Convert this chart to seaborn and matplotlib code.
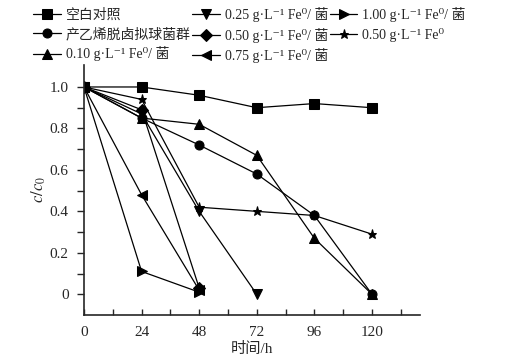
import numpy as np
import pandas as pd
import matplotlib
matplotlib.use("Agg")
import matplotlib.pyplot as plt
from matplotlib.ticker import FixedLocator
import seaborn as sns

sns.set_style("ticks")
plt.rcParams["font.family"] = ["Liberation Serif", "DejaVu Serif", "Noto Sans CJK SC"]
plt.rcParams["mathtext.fontset"] = "stix"

# data
series_names = [
    "空白对照",
    "产乙烯脱卤拟球菌群",
    "0.10 g·L⁻¹ Fe⁰/ 菌",
    "0.25 g·L⁻¹ Fe⁰/ 菌",
    "0.50 g·L⁻¹ Fe⁰/ 菌",
    "0.75 g·L⁻¹ Fe⁰/ 菌",
    "1.00 g·L⁻¹ Fe⁰/ 菌",
    "0.50 g·L⁻¹ Fe⁰",
]
blank_t = [0, 24, 48, 72, 96, 120]
blank_c = [1.0, 1.0, 0.96, 0.90, 0.92, 0.90]
bact_t = [0, 24, 48, 72, 96, 120]
bact_c = [1.0, 0.85, 0.72, 0.58, 0.38, 0.0]
fe010_t = [0, 24, 48, 72, 96, 120]
fe010_c = [1.0, 0.85, 0.82, 0.67, 0.27, 0.0]
fe025_t = [0, 24, 48, 72]
fe025_c = [1.0, 0.87, 0.40, 0.0]
fe050_t = [0, 24, 48]
fe050_c = [1.0, 0.89, 0.03]
fe075_t = [0, 24, 48]
fe075_c = [1.0, 0.48, 0.02]
fe100_t = [0, 24, 48]
fe100_c = [1.0, 0.11, 0.01]
fe050only_t = [0, 24, 48, 72, 96, 120]
fe050only_c = [1.0, 0.94, 0.42, 0.40, 0.38, 0.29]

x_ticks = [0, 24, 48, 72, 96, 120]
y_ticks = [0, 0.2, 0.4, 0.6, 0.8, 1.0]
y_tick_labels = ["0", "0.2", "0.4", "0.6", "0.8", "1.0"]

times = [blank_t, bact_t, fe010_t, fe025_t, fe050_t, fe075_t, fe100_t, fe050only_t]
concs = [blank_c, bact_c, fe010_c, fe025_c, fe050_c, fe075_c, fe100_c, fe050only_c]
frames = []
for name, t, c in zip(series_names, times, concs):
    frames.append(pd.DataFrame({"time": t, "c": c, "group": name}))
df = pd.concat(frames, ignore_index=True)

marker_list = ["s", "o", "^", "v", "D", "<", ">", "*"]
markers = dict(zip(series_names, marker_list))
palette = dict.fromkeys(series_names, "black")

fig = plt.figure(figsize=(5.23, 3.56), dpi=100)
ax = fig.add_axes([0.1606, 0.1152, 0.6424, 0.7022])

sns.lineplot(data=df, x="time", y="c", hue="group", style="group",
             hue_order=series_names, style_order=series_names,
             markers=markers, dashes=False, palette=palette,
             markersize=6.5, linewidth=0.9, markeredgecolor="black",
             ax=ax, legend="full")

ax.set_xlim(0, 140)
ax.set_ylim(-0.1, 1.106)
ax.xaxis.set_major_locator(FixedLocator(x_ticks))
ax.xaxis.set_minor_locator(FixedLocator([12, 36, 60, 84, 108, 132]))
ax.yaxis.set_major_locator(FixedLocator(y_ticks))
ax.yaxis.set_minor_locator(FixedLocator([0.1, 0.3, 0.5, 0.7, 0.9]))
ax.set_yticklabels(y_tick_labels)
ax.set_xticklabels([str(v) for v in x_ticks])
ax.tick_params(axis="x", which="both", direction="in", length=4, width=1,
               labelsize=11, pad=8)
ax.tick_params(axis="y", which="both", direction="out", length=5, width=1,
               labelsize=11, pad=6)
for s in ["left", "bottom"]:
    ax.spines[s].set_linewidth(1.2)
sns.despine(ax=ax)

ax.set_xlabel("时间/h", fontsize=11, labelpad=2)
ax.set_ylabel("$c/c_0$", fontsize=12, labelpad=1)

handles, labels = ax.get_legend_handles_labels()
ax.get_legend().remove()
fig.legend(handles, labels, loc="upper left", bbox_to_anchor=(0.05, 1.0),
           ncol=3, frameon=False, fontsize=10, handlelength=2.0,
           handletextpad=0.35, columnspacing=0.1, labelspacing=0.38,
           borderaxespad=0.12)

fig.savefig("out.png", dpi=100)
